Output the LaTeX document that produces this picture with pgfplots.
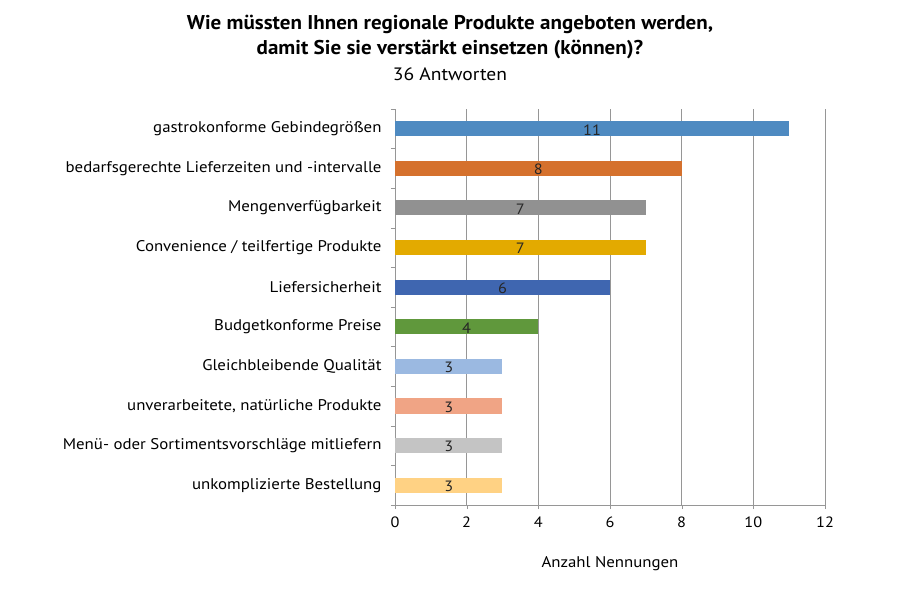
\documentclass[border=0pt]{standalone}
\usepackage{fontspec}
\setmainfont[FakeStretch=1.09]{PT Sans}
\newfontfamily\titlefont[FakeStretch=1.055]{PT Sans}
\usepackage{pgfplots}
\pgfplotsset{compat=1.18}
\definecolor{c1}{HTML}{4E8AC1}
\definecolor{c2}{HTML}{D5712D}
\definecolor{c3}{HTML}{919191}
\definecolor{c4}{HTML}{E3AA00}
\definecolor{c5}{HTML}{3F66B0}
\definecolor{c6}{HTML}{60983C}
\definecolor{c7}{HTML}{9BB9E1}
\definecolor{c8}{HTML}{F0A485}
\definecolor{c9}{HTML}{C4C4C4}
\definecolor{c10}{HTML}{FFD284}
\definecolor{gridc}{HTML}{969696}
\begin{document}
\begin{tikzpicture}
\begin{axis}[
  name=ax,
  scale only axis, width=430bp, height=396bp,
  xmin=0, xmax=12, ymin=0.5, ymax=10.5,
  xtick={0,2,...,12},
  ytick={1,...,10},
  yticklabels={unkomplizierte Bestellung,Menü- oder Sortimentsvorschläge mitliefern,{unverarbeitete, natürliche Produkte},Gleichbleibende Qualität,Budgetkonforme Preise,Liefersicherheit,Convenience / teilfertige Produkte,Mengenverfügbarkeit,bedarfsgerechte Lieferzeiten und -intervalle,gastrokonforme Gebindegrößen},
  major tick length=4bp,
  ytick style={draw=none},
  tick align=outside,
  xtick style={draw=gridc},
  extra y ticks={0.5,1.5,...,10.5},
  extra y tick labels={},
  extra y tick style={ytick style={draw=gridc}, grid=none},
  xmajorgrids, grid style={draw=gridc, line width=0.8pt},
  axis x line*=bottom, axis y line*=left,
  axis line style={draw=gridc, line width=0.8pt},
  /pgf/number format/assume math mode=true,
  ticklabel style={font=\fontsize{15}{17}\selectfont},
  yticklabel style={xshift=-6bp, font=\fontsize{15.5}{17}\selectfont},
  xticklabel style={yshift=-4bp},
  xlabel={Anzahl Nennungen},
  xlabel style={font=\fontsize{15.5}{17}\selectfont, yshift=-22bp},
  xbar, bar width=15bp, bar shift=0pt,
  every axis plot/.append style={draw=none},
  clip=false,
]
\addplot[fill=c1] coordinates {(11,10)};
\addplot[fill=c2] coordinates {(8,9)};
\addplot[fill=c3] coordinates {(7,8)};
\addplot[fill=c4] coordinates {(7,7)};
\addplot[fill=c5] coordinates {(6,6)};
\addplot[fill=c6] coordinates {(4,5)};
\addplot[fill=c7] coordinates {(3,4)};
\addplot[fill=c8] coordinates {(3,3)};
\addplot[fill=c9] coordinates {(3,2)};
\addplot[fill=c10] coordinates {(3,1)};
\addplot[draw=none, mark=none, xbar=0pt, fill=none, bar width=0pt,
  nodes near coords, point meta=explicit symbolic,
  every node near coord/.style={anchor=center, yshift=-1bp, font=\fontsize{15}{17}\selectfont, text=black!85}]
  table[x expr=\thisrow{v}/2, y=i, meta=v] {
  i v
  10 11
  9 8
  8 7
  7 7
  6 6
  5 4
  4 3
  3 3
  2 3
  1 3
};
\end{axis}
\node[align=center, font=\titlefont\bfseries\fontsize{20}{26}\selectfont] at ([xshift=55bp,yshift=72bp]ax.north west) {Wie müssten Ihnen regionale Produkte angeboten werden,\\damit Sie sie verstärkt einsetzen (können)?};
\node[font=\fontsize{18}{20}\selectfont] at ([xshift=55bp,yshift=35bp]ax.north west) {36 Antworten};
\pgfresetboundingbox
\path[use as bounding box] (ax.south west) ++(-395bp,-90bp) rectangle ++(900bp,595bp);
\end{tikzpicture}
\end{document}
